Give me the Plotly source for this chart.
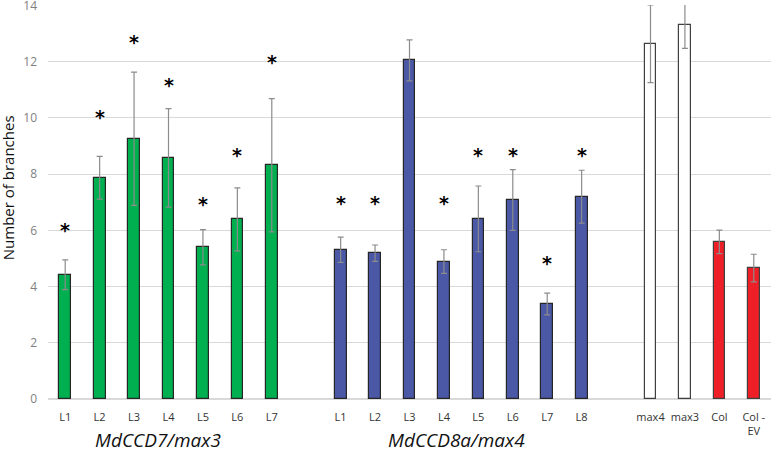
import plotly.graph_objects as go

# ---- data ----
green_labels = ["L1", "L2", "L3", "L4", "L5", "L6", "L7"]
green_values = [4.42, 7.87, 9.26, 8.58, 5.40, 6.39, 8.32]
green_err = [0.53, 0.76, 2.37, 1.75, 0.63, 1.12, 2.37]
green_star = [6.08, 10.1, 12.76, 11.24, 7.02, 8.74, 12.05]

blue_labels = ["L1", "L2", "L3", "L4", "L5", "L6", "L7", "L8"]
blue_values = [5.31, 5.19, 12.05, 4.89, 6.41, 7.08, 3.38, 7.20]
blue_err = [0.45, 0.29, 0.73, 0.42, 1.17, 1.08, 0.39, 0.94]
blue_star = [7.05, 7.05, None, 7.05, 8.76, 8.76, 4.91, 8.76]

ctrl_labels = ["max4", "max3", "Col", "Col -<br>EV"]
ctrl_values = [12.64, 13.31, 5.59, 4.66]
ctrl_err = [1.38, 0.83, 0.42, 0.49]
ctrl_colors = ["#ffffff", "#ffffff", "#ee1f26", "#ee1f26"]

group_titles = ["MdCCD7/max3", "MdCCD8a/max4"]
y_ticks = [0, 2, 4, 6, 8, 10, 12, 14]

# ---- positions (one blank slot between groups) ----
gx = list(range(len(green_labels)))
bx = [len(green_labels) + 1 + i for i in range(len(blue_labels))]
cx = [bx[-1] + 2 + i for i in range(len(ctrl_labels))]
n_slots = cx[-1] + 1

fig = go.Figure()

err_style = dict(type="data", color="#8c8c8c", thickness=1.2, width=3)
bar_line = dict(color="#262626", width=1.2)

fig.add_trace(go.Bar(x=gx, y=green_values, marker=dict(color="#00b050", line=bar_line),
                     error_y=dict(array=green_err, **err_style), width=0.34))
fig.add_trace(go.Bar(x=bx, y=blue_values, marker=dict(color="#4a58a6", line=bar_line),
                     error_y=dict(array=blue_err, **err_style), width=0.34))
fig.add_trace(go.Bar(x=cx, y=ctrl_values, marker=dict(color=ctrl_colors, line=dict(color="#404040", width=1.2)),
                     error_y=dict(array=ctrl_err, **err_style), width=0.34))

annotations = []
for xs, stars in ((gx, green_star), (bx, blue_star)):
    for x, s in zip(xs, stars):
        if s is None:
            continue
        annotations.append(dict(x=x, y=s, text="<b>*</b>", showarrow=False, xref="x", yref="y",
                                font=dict(size=19, color="#000000", family="DejaVu Sans"),
                                yanchor="middle", yshift=-2))

for xs, title, shift in ((gx, group_titles[0], -11), (bx, group_titles[1], -5)):
    annotations.append(dict(x=(xs[0] + xs[-1]) / 2, y=-0.103, xref="x", yref="paper",
                            text="<i>" + title + "</i>", showarrow=False, xshift=shift,
                            font=dict(size=19, color="#111111", family="Open Sans"),
                            yanchor="middle"))

# y-axis title placed as rotated text
annotations.append(dict(x=0, y=0.535, xref="paper", yref="paper", xshift=-40,
                        xanchor="center", yanchor="middle",
                        text="Number of branches", textangle=-90, showarrow=False,
                        font=dict(size=15, color="#111111", family="Open Sans")))

fig.update_layout(
    width=771, height=451,
    margin=dict(l=48, r=0, t=5, b=52),
    paper_bgcolor="white", plot_bgcolor="white",
    showlegend=False,
    bargap=0,
    annotations=annotations,
    xaxis=dict(
        range=[-0.5, n_slots - 0.5],
        tickvals=gx + bx + cx,
        ticktext=green_labels + blue_labels + ctrl_labels,
        tickfont=dict(size=11, color="#333333", family="Open Sans"),
        showgrid=False, zeroline=False, showline=False, ticks="",
        ticklabelstandoff=10, ticklabeloverflow="allow",
        automargin=False,
    ),
    yaxis=dict(
        range=[0, 14.02], tickvals=y_ticks,
        tickfont=dict(size=12, color="#7f7f7f", family="Open Sans"),
        gridcolor="#d9d9d9", gridwidth=1, zeroline=True, zerolinecolor="#d9d9d9",
        showline=False, ticks="", ticklabelstandoff=10, ticklabeloverflow="allow",
        automargin=False,
    ),
)
for tr in fig.data:
    tr.cliponaxis = False

fig.write_html("out.html", config={"displayModeBar": False},
               post_script="document.body.style.margin='0';")
